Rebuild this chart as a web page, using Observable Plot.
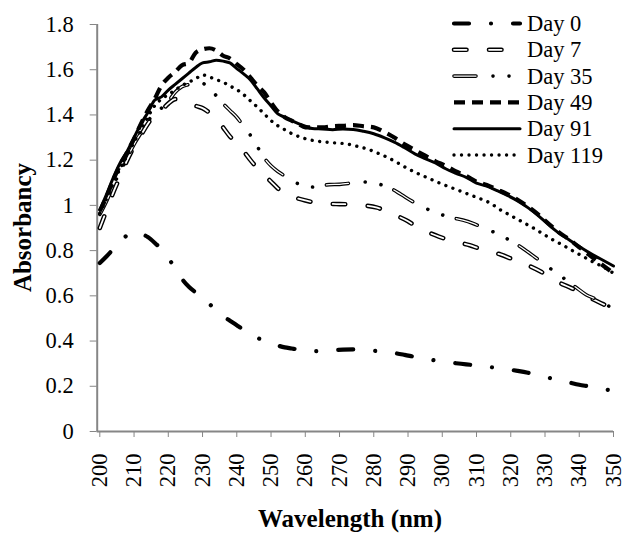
<!DOCTYPE html>
<html><head><meta charset="utf-8">
<script src="https://cdn.jsdelivr.net/npm/d3@7"></script>
<script src="https://cdn.jsdelivr.net/npm/@observablehq/plot@0.6"></script>
</head><body style="margin:0;background:#fff;font-family:'Liberation Serif'">
<div id="wrap" style="position:relative;width:622px;height:534px"></div>
<script>
// ---- data ----
const xTicks = [200,210,220,230,240,250,260,270,280,290,300,310,320,330,340,350];
const yTicks = [0,0.2,0.4,0.6,0.8,1,1.2,1.4,1.6,1.8];
const seriesNames = ["Day 0","Day 7","Day 35","Day 49","Day 91","Day 119"];
const xTitle = "Wavelength (nm)";
const yTitle = "Absorbancy";

const day0 = [[200,0.745],[202,0.775],[204,0.808],[206,0.84],[208,0.868],[210,0.882],[212,0.875],[214,0.86],[216,0.835],[218,0.805],[220,0.765],[222,0.725],[224,0.675],[226,0.64],[228,0.615],[230,0.595],[232,0.565],[234,0.535],[236,0.51],[238,0.49],[240,0.47],[242,0.45],[244,0.433],[246,0.415],[248,0.4],[250,0.39],[252,0.38],[254,0.372],[256,0.367],[258,0.362],[260,0.355],[262,0.355],[265,0.358],[268,0.36],[271,0.362],[274,0.363],[277,0.36],[280,0.357],[283,0.352],[286,0.347],[289,0.339],[292,0.33],[295,0.322],[298,0.314],[301,0.307],[304,0.302],[307,0.297],[310,0.292],[313,0.287],[316,0.281],[319,0.275],[322,0.268],[325,0.26],[328,0.25],[331,0.238],[334,0.227],[337,0.217],[340,0.207],[343,0.199],[346,0.19],[350,0.18]];

const day7 = [[200,0.9],[202,0.98],[204,1.06],[206,1.13],[208,1.2],[210,1.26],[212,1.31],[214,1.36],[216,1.4],[218,1.42],[220,1.45],[222,1.47],[224,1.465],[226,1.452],[228,1.44],[230,1.43],[232,1.41],[234,1.385],[236,1.345],[238,1.305],[240,1.275],[242,1.24],[244,1.2],[246,1.165],[248,1.135],[250,1.105],[252,1.075],[254,1.052],[256,1.04],[258,1.03],[260,1.022],[263,1.012],[266,1.007],[269,1.006],[272,1.005],[275,1.0],[278,0.998],[281,0.99],[284,0.972],[287,0.952],[290,0.93],[293,0.9],[296,0.88],[299,0.862],[302,0.847],[305,0.835],[308,0.824],[311,0.808],[314,0.795],[317,0.783],[320,0.765],[323,0.745],[326,0.728],[329,0.705],[332,0.675],[335,0.652],[338,0.632],[341,0.605],[344,0.585],[347,0.563],[350,0.543]];

const day35 = [[200,0.96],[202,1.02],[204,1.09],[206,1.15],[208,1.21],[210,1.27],[212,1.32],[214,1.37],[216,1.41],[218,1.43],[220,1.46],[222,1.5],[224,1.525],[226,1.535],[228,1.545],[230,1.54],[232,1.52],[234,1.485],[236,1.45],[238,1.42],[240,1.39],[242,1.35],[244,1.31],[246,1.26],[248,1.21],[250,1.175],[252,1.15],[254,1.13],[256,1.11],[258,1.095],[261,1.08],[264,1.085],[267,1.092],[270,1.093],[273,1.098],[276,1.105],[279,1.1],[282,1.092],[285,1.075],[288,1.048],[291,1.02],[294,0.995],[297,0.975],[300,0.958],[303,0.945],[306,0.935],[309,0.92],[312,0.9],[315,0.882],[318,0.86],[321,0.835],[324,0.805],[327,0.772],[330,0.738],[333,0.705],[336,0.672],[339,0.638],[342,0.605],[345,0.585],[348,0.56],[350,0.543]];

const day49 = [[200,0.975],[202,1.04],[204,1.115],[206,1.18],[208,1.235],[210,1.295],[212,1.36],[214,1.42],[216,1.47],[218,1.53],[220,1.565],[222,1.59],[224,1.62],[226,1.63],[228,1.675],[230,1.69],[232,1.695],[234,1.685],[236,1.662],[238,1.65],[240,1.625],[242,1.6],[244,1.565],[246,1.53],[248,1.5],[250,1.455],[252,1.415],[254,1.39],[256,1.375],[258,1.36],[260,1.345],[262,1.345],[265,1.345],[268,1.35],[271,1.352],[274,1.355],[277,1.35],[280,1.345],[283,1.325],[286,1.3],[289,1.27],[292,1.245],[295,1.22],[298,1.195],[301,1.175],[304,1.15],[307,1.13],[310,1.105],[313,1.09],[316,1.07],[319,1.05],[322,1.025],[325,0.995],[328,0.96],[331,0.92],[334,0.882],[337,0.85],[340,0.815],[343,0.78],[346,0.745],[350,0.7]];

const day91 = [[200,0.98],[202,1.05],[204,1.125],[206,1.19],[208,1.24],[210,1.3],[212,1.36],[214,1.41],[216,1.465],[218,1.48],[220,1.51],[222,1.535],[224,1.56],[226,1.585],[228,1.61],[230,1.63],[232,1.635],[234,1.642],[236,1.638],[238,1.63],[240,1.605],[242,1.582],[244,1.555],[246,1.515],[248,1.475],[250,1.44],[252,1.405],[254,1.39],[256,1.375],[258,1.362],[260,1.35],[262,1.34],[265,1.338],[268,1.335],[271,1.338],[274,1.336],[277,1.328],[280,1.317],[283,1.3],[286,1.28],[289,1.255],[292,1.228],[295,1.207],[298,1.188],[301,1.162],[304,1.142],[307,1.124],[310,1.098],[313,1.085],[316,1.065],[319,1.044],[322,1.02],[325,0.99],[328,0.955],[331,0.915],[334,0.878],[337,0.848],[340,0.818],[343,0.79],[346,0.765],[350,0.732]];

const day119 = [[200,0.965],[202,1.03],[204,1.1],[206,1.165],[208,1.22],[210,1.28],[212,1.33],[214,1.39],[216,1.44],[218,1.47],[220,1.49],[222,1.51],[224,1.53],[226,1.545],[228,1.56],[230,1.577],[232,1.568],[234,1.556],[236,1.545],[238,1.528],[240,1.512],[242,1.49],[244,1.462],[246,1.435],[248,1.405],[250,1.375],[252,1.352],[254,1.335],[256,1.318],[258,1.305],[260,1.295],[263,1.285],[266,1.28],[269,1.276],[272,1.272],[275,1.262],[278,1.25],[281,1.232],[284,1.212],[287,1.188],[290,1.162],[293,1.14],[296,1.12],[299,1.1],[302,1.082],[305,1.065],[308,1.047],[311,1.03],[314,1.01],[317,0.98],[320,0.955],[323,0.93],[326,0.905],[329,0.878],[332,0.85],[335,0.826],[338,0.8],[341,0.775],[344,0.75],[347,0.728],[350,0.7]];

// ---- styles ----
const FONT = "Liberation Serif";
const axisColor = "#868686";
const styles = {
  "Day 0":  [{stroke:"black", strokeWidth:4.2, strokeDasharray:"15 22 0.01 22", strokeLinecap:"round"}],
  "Day 7":  [{stroke:"black", strokeWidth:4.6, strokeDasharray:"12.5 22.5", strokeLinecap:"round"},
             {stroke:"white", strokeWidth:1.8, strokeDasharray:"12.5 22.5", strokeLinecap:"round"}],
  "Day 35": [{stroke:"black", strokeWidth:3.6, strokeDasharray:"22 17 0.01 16 0.01 14", strokeLinecap:"round"},
             {stroke:"white", strokeWidth:1.3, strokeDasharray:"22 47.02", strokeLinecap:"round"}],
  "Day 49": [{stroke:"black", strokeWidth:4.2, strokeDasharray:"11 7", strokeLinecap:"butt"}],
  "Day 91": [{stroke:"black", strokeWidth:3, strokeLinecap:"round"}],
  "Day 119":[{stroke:"black", strokeWidth:3.4, strokeDasharray:"0.01 7.5", strokeLinecap:"round"}]
};
const seriesData = {"Day 0":day0,"Day 7":day7,"Day 35":day35,"Day 49":day49,"Day 91":day91,"Day 119":day119};

// ---- layout ----
const W = 622, H = 534;
const xDomain = [199.24, 350];
const wrap = document.getElementById("wrap");

const lineMarks = [];
["Day 0","Day 7","Day 35","Day 119","Day 91","Day 49"].forEach(name => {
  const rows = seriesData[name].map(([w,a]) => ({w, a}));
  styles[name].forEach(s => {
    lineMarks.push(Plot.line(rows, {x:"w", y:"a", curve:"monotone-x", ...s}));
  });
});

const chart = Plot.plot({
  width: W, height: H,
  marginLeft: 96.7, marginRight: 9, marginTop: 24, marginBottom: 103,
  x: {domain: xDomain},
  y: {domain: [0, 1.8]},
  marks: [
    Plot.axisY({ticks: yTicks, tickSize: 7, tickPadding: 16.5, stroke: axisColor,
                fontSize: 22.5, fontFamily: FONT, label: null, tickFormat: d => String(+d.toFixed(1))}),
    Plot.axisX({ticks: xTicks, tickSize: 6, tickPadding: 16, tickRotate: -90, stroke: axisColor,
                fontSize: 22.5, label: null, tickFormat: d => String(d)}),
    Plot.ruleY([0], {stroke: axisColor, strokeWidth: 2}),
    Plot.ruleX([xDomain[0]], {stroke: axisColor, strokeWidth: 2}),
    ...lineMarks
  ]
});
wrap.appendChild(chart);
d3.select(chart).selectAll("g[aria-label='x-axis tick label'] text").attr("font-family", FONT);
d3.select(chart).selectAll("g[aria-label='y-axis tick label'] text").attr("font-family", FONT);

// ---- overlay: legend and axis titles ----
const ov = d3.select(wrap).append("svg").attr("width", W).attr("height", H)
  .style("position","absolute").style("left","0px").style("top","0px");
const legX0 = 454, legX1 = 520, legTextX = 527, legY0 = 23.5, legStep = 26.3;
seriesNames.forEach((name, i) => {
  const y = legY0 + i * legStep;
  styles[name].forEach(s => {
    ov.append("line").attr("x1", legX0).attr("x2", legX1).attr("y1", y).attr("y2", y)
      .attr("stroke", s.stroke).attr("stroke-width", s.strokeWidth)
      .attr("stroke-dasharray", s.strokeDasharray || null)
      .attr("stroke-linecap", s.strokeLinecap || "butt");
  });
  ov.append("text").attr("x", legTextX).attr("y", y + 7.5)
    .attr("font-size", 22.5).style("font-family", FONT).text(name);
});
ov.append("text").attr("x", 350).attr("y", 527).attr("text-anchor", "middle")
  .attr("font-size", 25).style("font-family", FONT).style("font-weight", "bold").text(xTitle);
ov.append("text").attr("transform", "translate(31,227.5) rotate(-90)").attr("text-anchor", "middle")
  .attr("font-size", 25).style("font-family", FONT).style("font-weight", "bold").text(yTitle);
</script></body></html>
